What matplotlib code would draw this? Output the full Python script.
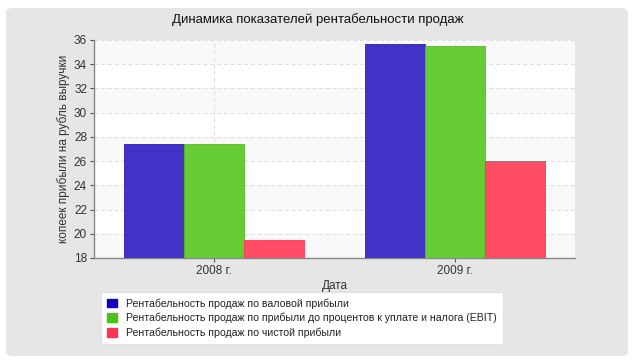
import matplotlib.pyplot as plt
from matplotlib.patches import FancyBboxPatch, Patch

plt.rcParams['font.family'] = ['Liberation Sans', 'DejaVu Sans']

years = ['2008 г.', '2009 г.']
series_names = [
    'Рентабельность продаж по валовой прибыли',
    'Рентабельность продаж по прибыли до процентов к уплате и налога (EBIT)',
    'Рентабельность продаж по чистой прибыли',
]
gross = [27.4, 35.7]
ebit = [27.4, 35.5]
net = [19.5, 26.0]

bar_colors = ['#4233c6', '#66cc33', '#ff4d66']
edge_colors = ['#2a1cb8', '#55bb22', '#ff3355']
legend_colors = ['#1400c0', '#4cc217', '#ff3355']

fig = plt.figure(figsize=(6.35, 3.62), dpi=100)
fig.patch.set_facecolor('white')

# grey rounded panel behind everything
panel = FancyBboxPatch((6 / 635, 6 / 362), 622 / 635, 348 / 362,
                       boxstyle='round,pad=0,rounding_size=0.012',
                       transform=fig.transFigure, facecolor='#e6e6e6',
                       edgecolor='none', zorder=-5)
fig.patches.append(panel)

ax = fig.add_axes([94 / 635, 1 - 258 / 362, 481 / 635, 218 / 362])
ax.set_zorder(2)
ax.set_facecolor('white')

ymin, ymax = 18, 36
# alternating bands
for lo in range(ymin, ymax, 4):
    ax.axhspan(lo, lo + 2, color='#f9f9f9', zorder=0, lw=0)

x = list(range(len(years)))
w = 0.25
for i, vals in enumerate([gross, ebit, net]):
    ax.bar([xi + (i - 1) * w for xi in x], [v - ymin for v in vals], w,
           bottom=ymin, color=bar_colors[i], edgecolor=edge_colors[i],
           linewidth=0.6, zorder=3)

ax.set_xlim(-0.5, 1.5)
ax.set_ylim(ymin, ymax)
ax.set_yticks(range(ymin, ymax + 1, 2))
ax.set_xticks(x)
ax.set_xticklabels(years)
ax.grid(True, color='#dddddd', linestyle=(0, (4, 3)), linewidth=0.7, zorder=1)
ax.set_axisbelow(True)

for s in ['top', 'right']:
    ax.spines[s].set_visible(False)
for s in ['left', 'bottom']:
    ax.spines[s].set_color('#888888')
    ax.spines[s].set_linewidth(1)
ax.tick_params(colors='#555555', labelcolor='#333333', labelsize=8.5,
               length=3, width=0.8, pad=2)

ax.set_xlabel('Дата', fontsize=8.5, color='#333333', labelpad=2)
ax.set_ylabel('копеек прибыли на рубль выручки', fontsize=8.5,
              color='#333333', labelpad=3)

fig.text(0.5, 1 - 20 / 362, 'Динамика показателей рентабельности продаж',
         ha='center', va='center', fontsize=9.5, color='#111111')

handles = [Patch(facecolor=c, edgecolor=c) for c in legend_colors]
leg = fig.legend(handles, series_names, loc='upper left',
                 bbox_to_anchor=(96 / 635, 1 - 287 / 362),
                 fontsize=7.6, frameon=True, fancybox=True,
                 handlelength=0.9, handleheight=0.9, handletextpad=0.9,
                 labelspacing=0.4, borderpad=0.55)
leg.get_frame().set_facecolor('white')
leg.get_frame().set_edgecolor('#dddddd')
leg.get_frame().set_linewidth(0.6)
leg.get_frame().set_alpha(1)
for t in leg.get_texts():
    t.set_color('#222222')

fig.savefig('out.png', dpi=100)
